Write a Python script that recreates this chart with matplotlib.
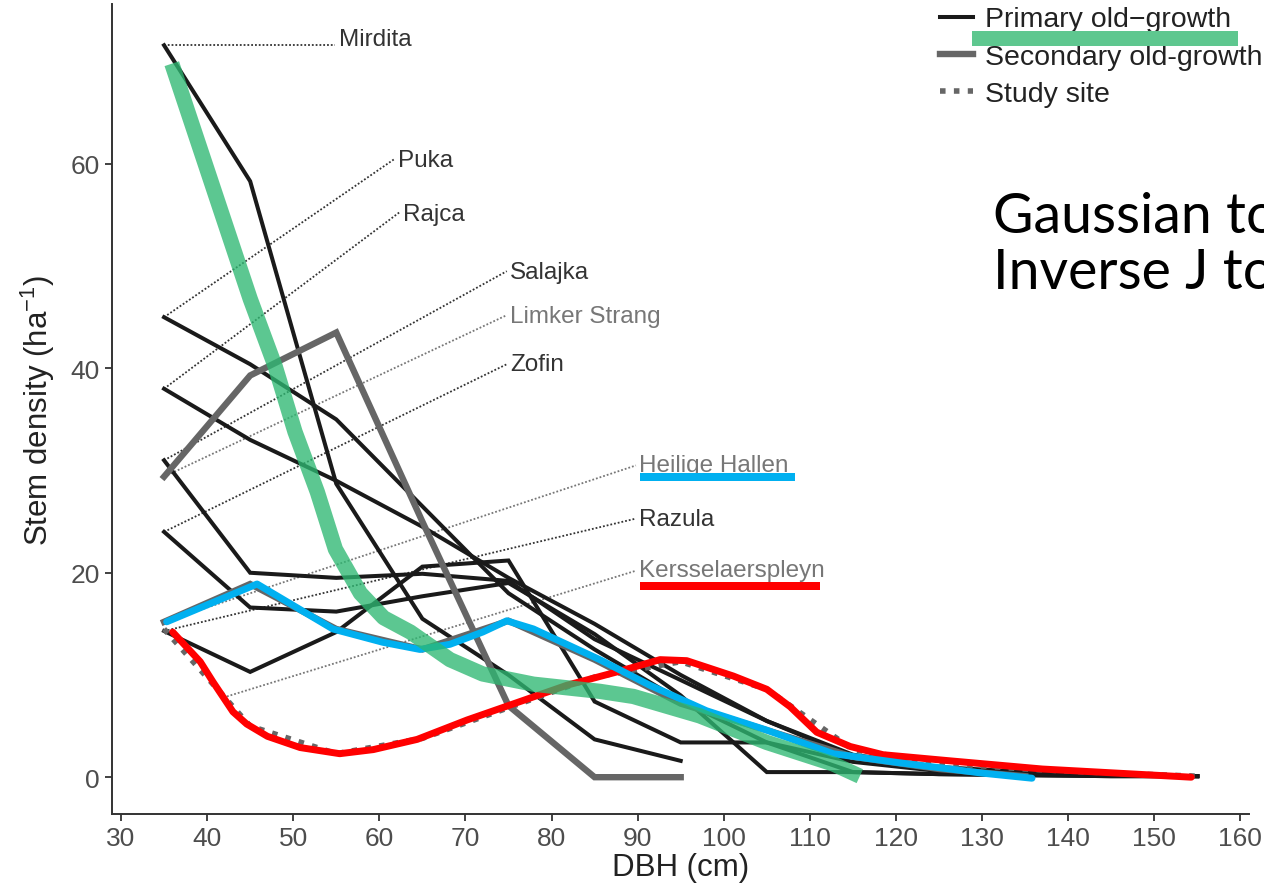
import matplotlib
matplotlib.use("Agg")
import matplotlib.pyplot as plt
from matplotlib.lines import Line2D
from matplotlib.patches import Rectangle

plt.rcParams['font.family'] = ['Liberation Sans', 'DejaVu Sans']
plt.rcParams['mathtext.fontset'] = 'custom'
plt.rcParams['mathtext.rm'] = 'Liberation Sans'
plt.rcParams['mathtext.it'] = 'Liberation Sans:italic'

# diameter classes (cm)
dbh = [35, 45, 55, 65, 75, 85, 95, 105, 115, 125, 135, 145, 155]

# primary old-growth stands, stems per ha per class
mirdita = [71.6, 58.3, 28.7, 15.5, 10.0, 3.7, 1.6]
puka = [45.0, 40.4, 35.0, 26.5, 18.0, 12.5, 7.5, 3.4, 1.5, 0.6, 0.3, 0.2, 0.1]
rajca = [38.0, 33.0, 29.0, 24.5, 19.5, 15.0, 10.0, 5.5, 2.2, 1.0, 0.5, 0.2, 0.1]
salajka = [31.0, 20.0, 19.5, 19.9, 19.2, 13.5, 9.5, 5.5, 2.0, 0.8, 0.4, 0.2, 0.1]
zofin = [24.0, 16.6, 16.2, 17.7, 19.0, 14.0, 8.0, 0.5, 0.5, 0.3, 0.2, 0.1, 0.1]
razula = [14.3, 10.3, 14.2, 20.6, 21.2, 7.4, 3.4, 3.4, 0.5, 0.3, 0.2, 0.1, 0.1]

# secondary old-growth and study site
limker_strang = [29.4, 39.3, 43.5, 25.0, 7.0, 0.0, 0.0]
heilige_hallen = [15.2, 18.9, 14.5, 12.5, 15.3, 11.5, 7.2, 4.6, 2.0, 0.8, 0.1]
kersselaerspleyn = [14.5, 5.0, 2.3, 3.8, 6.8, 9.8, 11.3, 8.6, 2.7, 1.4, 0.8, 0.4, 0.1]

# hand-drawn highlight curves
green_x = [35.9, 45.0, 47.9, 50.2, 52.8, 54.9, 57.8, 60.5, 63.6, 68.2, 72.0, 77.9,
           85.6, 89.5, 97.2, 105.0, 112.7, 115.8]
green_y = [69.8, 46.8, 40.2, 33.8, 27.9, 22.3, 18.0, 15.6, 14.2, 11.5, 10.1, 9.1,
           8.4, 7.9, 6.0, 3.4, 1.3, 0.1]
blue_x = [35.3, 45.8, 50.8, 54.6, 60.4, 64.7, 68.2, 72.0, 74.8, 77.9, 85.6, 91.4,
          98.0, 105.0, 112.7, 120.5, 126.3, 130.0, 135.8]
blue_y = [15.2, 18.9, 16.4, 14.5, 13.2, 12.5, 13.0, 14.2, 15.3, 14.5, 11.5, 9.0,
          6.5, 4.6, 2.3, 1.4, 0.8, 0.4, -0.1]
red_x = [36.0, 39.2, 40.7, 43.0, 44.6, 47.0, 50.8, 55.4, 59.3, 64.4, 70.2, 76.0,
         81.8, 87.6, 92.6, 95.7, 101.1, 105.0, 107.7, 110.8, 114.7, 118.5, 126.3,
         137.0, 154.3]
red_y = [14.2, 11.3, 9.3, 6.4, 5.2, 4.0, 2.9, 2.3, 2.7, 3.7, 5.6, 7.3, 9.0, 10.3,
         11.5, 11.4, 9.9, 8.6, 6.9, 4.4, 3.0, 2.2, 1.6, 0.8, 0.0]

W, H = 1264, 887
fig = plt.figure(figsize=(W / 100, H / 100), dpi=100)
ax = fig.add_axes([112.4 / W, 1 - 815 / H, (1249 - 112.4) / W, (815 - 5.4) / H])
ax.set_xlim(29, 161)
ax.set_ylim(-3.6, 75.6)

dark = '#333333'
grey_txt = '#777777'

# leader segments and stand names: (name, start, segment end, text y, colour)
labels = [
    ("Mirdita", (35, mirdita[0]), (54.9, 71.6), 72.2, dark),
    ("Puka", (35, puka[0]), (61.8, 60.5), 60.4, dark),
    ("Rajca", (35, rajca[0]), (62.4, 55.3), 55.1, dark),
    ("Salajka", (35, salajka[0]), (74.8, 49.5), 49.4, dark),
    ("Limker Strang", (35, limker_strang[0]), (74.8, 45.2), 45.1, grey_txt),
    ("Zofin", (35, zofin[0]), (74.8, 40.4), 40.4, dark),
    ("Heilige Hallen", (35, heilige_hallen[0]), (89.8, 30.5), 30.5, grey_txt),
    ("Razula", (35, razula[0]), (89.8, 25.3), 25.3, dark),
    ("Kersselaerspleyn", (42.3, 7.9), (89.8, 20.2), 20.3, grey_txt),
]
for name, (x0, y0), (x1, y1), ty, col in labels:
    ax.plot([x0, x1], [y0, y1], ls=(0, (1, 1.1)), lw=1.3, color=col, zorder=1)
    ax.text(x1 + 0.4, ty, name, fontsize=17.5, color=col, va='center', ha='left')

for vals in [mirdita, puka, rajca, salajka, zofin, razula]:
    ax.plot(dbh[:len(vals)], vals, color='#1a1a1a', lw=2.9, zorder=2,
            solid_joinstyle='miter')
for vals in [limker_strang, heilige_hallen]:
    ax.plot(dbh[:len(vals)], vals, color='#666666', lw=4.6, zorder=2,
            solid_joinstyle='miter')
ax.plot(dbh, kersselaerspleyn, color='#666666', lw=4.0, ls=(0, (1, 1.5)), zorder=2)

# highlight overlays
ax.plot(red_x, red_y, color='#ff0000', lw=5.0, zorder=4, solid_capstyle='round')
ax.plot(blue_x, blue_y, color='#00b0f0', lw=5.0, zorder=4, solid_capstyle='round')
ax.plot(green_x, green_y, color='#2eb872', lw=11, alpha=0.78, zorder=5,
        solid_capstyle='butt')

ax.set_xticks(range(30, 161, 10))
ax.set_yticks([0, 20, 40, 60])
ax.tick_params(axis='both', length=5, width=1.3, color=dark, labelsize=19,
               labelcolor='#4d4d4d', pad=4)
for side in ['top', 'right']:
    ax.spines[side].set_visible(False)
for side in ['left', 'bottom']:
    ax.spines[side].set_color(dark)
    ax.spines[side].set_linewidth(1.4)
ax.set_xlabel('DBH (cm)', fontsize=22.5, color='#222222', labelpad=1)
ax.set_ylabel('Stem density (ha$^{-1}$)', fontsize=22.5, color='#222222', labelpad=9.5)

handles = [
    Line2D([], [], color='#1a1a1a', lw=2.9),
    Line2D([], [], color='#666666', lw=4.6),
    Line2D([], [], color='#666666', lw=4.0, ls=(0, (1, 1.5))),
]
leg = fig.legend(handles, ['Primary old\u2212growth', 'Secondary old-growth', 'Study site'],
                 loc='upper left', bbox_to_anchor=(940 / W, 1 - 7.5 / H), frameon=False,
                 fontsize=20.5, handlelength=1.15, handletextpad=0.42, labelspacing=0.4,
                 borderpad=0.0, borderaxespad=0.0)
for t in leg.get_texts():
    t.set_color('#222222')

# coloured markers under the legend entry and the highlighted stand names
fig.add_artist(Rectangle((972 / W, 1 - 47 / H), 266 / W, 15 / H, zorder=10,
                         transform=fig.transFigure, color='#5ec78f', lw=0))
fig.add_artist(Rectangle((640 / W, 1 - 482 / H), 155 / W, 8 / H, zorder=10,
                         transform=fig.transFigure, color='#00b0f0', lw=0))
fig.add_artist(Rectangle((640 / W, 1 - 591 / H), 180 / W, 8 / H, zorder=10,
                         transform=fig.transFigure, color='#ff0000', lw=0))

fig.text(993 / W, 1 - 233 / H, 'Gaussian to', fontsize=40, family=['Lato', 'DejaVu Sans'],
         color='black', va='baseline')
fig.text(993 / W, 1 - 289 / H, 'Inverse J to', fontsize=40, family=['Lato', 'DejaVu Sans'],
         color='black', va='baseline')

fig.savefig('out.png', dpi=100, facecolor='white')
